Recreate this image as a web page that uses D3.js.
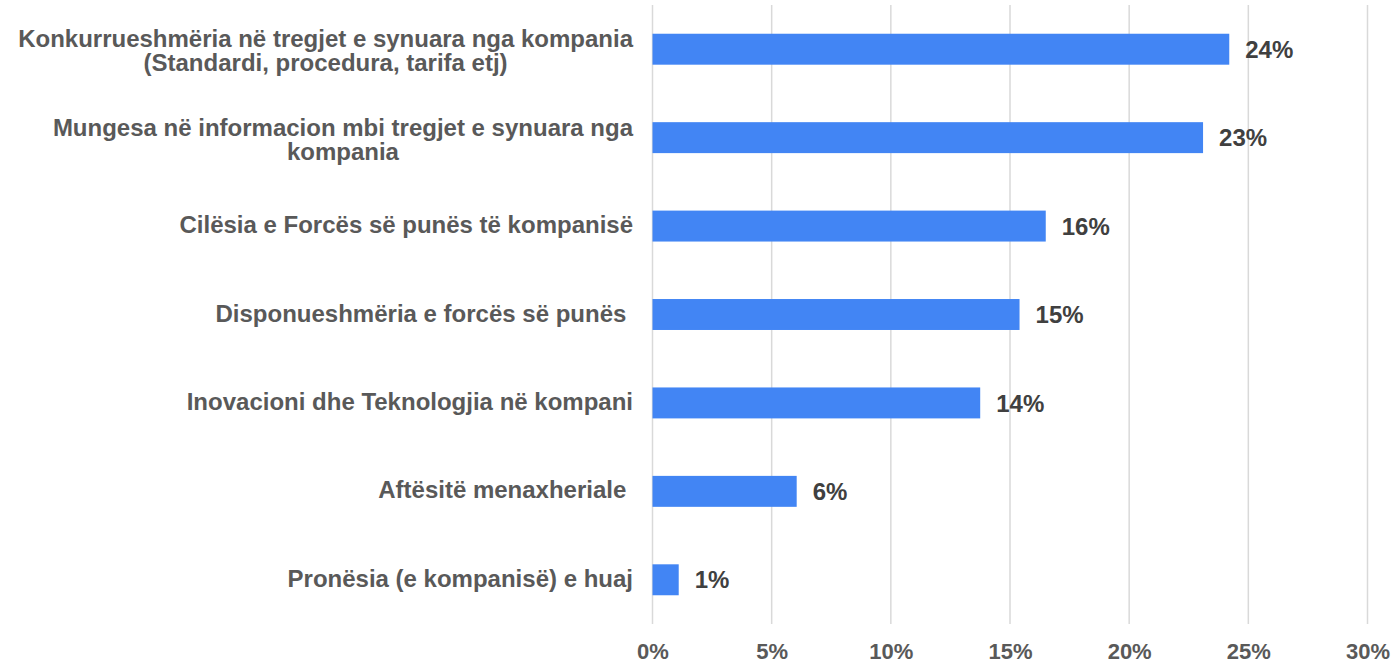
<!DOCTYPE html>
<html>
<head>
<meta charset="utf-8">
<script src="https://cdn.jsdelivr.net/npm/d3@7"></script>
<style>
  body { margin: 0; background: #fff; }
  svg { display: block; }
  text { font-family: "Liberation Sans", Arial, sans-serif; font-weight: bold; }
</style>
</head>
<body>
<div id="chart"></div>
<script>
// categories, top to bottom (line breaks as in the original)
var categories = [
  "Konkurrueshmëria në tregjet e synuara nga kompania\n(Standardi, procedura, tarifa etj)",
  "Mungesa në informacion mbi tregjet e synuara nga\nkompania",
  "Cilësia e Forcës së punës të kompanisë",
  "Disponueshmëria e forcës së punës ",
  "Inovacioni dhe Teknologjia në kompani",
  "Aftësitë menaxheriale ",
  "Pronësia (e kompanisë) e huaj"
];
var values = [24.2, 23.1, 16.5, 15.4, 13.75, 6.05, 1.1];
var valueLabels = ["24%", "23%", "16%", "15%", "14%", "6%", "1%"];
var xTicks = [0, 5, 10, 15, 20, 25, 30];

var width = 1395, height = 664;

var svg = d3.select('#chart').append('svg')
    .attr('width', width)
    .attr('height', height);

var x = d3.scaleLinear()
    .domain([0, 30])
    .range([652.5, 1367.5]);

var y = d3.scaleBand()
    .domain(categories)
    .range([5, 624])
    .paddingInner(0.65)
    .paddingOuter(0.325);

// gridlines
svg.append('g')
    .selectAll('line')
    .data(xTicks)
    .enter().append('line')
    .attr('x1', function (d) { return x(d); })
    .attr('x2', function (d) { return x(d); })
    .attr('y1', 5)
    .attr('y2', 624)
    .attr('stroke', '#d9d9d9')
    .attr('stroke-width', 1.5);

// x axis tick labels
var xAxis = d3.axisBottom(x)
    .tickValues(xTicks)
    .tickSize(0)
    .tickPadding(0)
    .tickFormat(function (d) { return d + '%'; });

var ax = svg.append('g')
    .attr('transform', 'translate(0,659)')
    .call(xAxis);
ax.select('.domain').remove();
ax.selectAll('text')
    .attr('y', 0)
    .attr('dy', 0)
    .style('font-family', '"Liberation Sans", Arial, sans-serif')
    .style('font-weight', 'bold')
    .style('font-size', '22px')
    .attr('fill', '#595959');

// bars
svg.append('g')
    .selectAll('rect')
    .data(values)
    .enter().append('rect')
    .attr('x', x(0))
    .attr('y', function (d, i) { return y(categories[i]); })
    .attr('width', function (d) { return x(d) - x(0); })
    .attr('height', y.bandwidth())
    .attr('fill', '#4285f4');

// value labels
svg.append('g')
    .selectAll('text')
    .data(values)
    .enter().append('text')
    .attr('x', function (d) { return x(d) + 16; })
    .attr('y', function (d, i) { return y(categories[i]) + y.bandwidth() / 2; })
    .attr('dy', '0.36em')
    .attr('fill', '#404040')
    .style('font-size', '24px')
    .text(function (d, i) { return valueLabels[i]; });

// category labels (multi-line centred block, right aligned to the axis)
var labelRight = 633, lineH = 24;
var lab = svg.append('g');
categories.forEach(function (c, i) {
    var lines = c.split('\n');
    var cy = y(c) + y.bandwidth() / 2 + (lines.length > 1 ? 1.5 : -1.5);
    var t = lab.append('text')
        .attr('fill', '#595959')
        .style('font-size', '24px')
        .style('white-space', 'pre')
        .attr('text-anchor', 'middle');
    lines.forEach(function (l, k) {
        t.append('tspan')
            .attr('y', cy + (k - (lines.length - 1) / 2) * lineH)
            .attr('dy', '0.36em')
            .text(l);
    });
    // measure the widest line, then centre all lines in a block ending at labelRight
    var w = d3.max(t.selectAll('tspan').nodes(), function (n) { return n.getComputedTextLength(); });
    t.selectAll('tspan').attr('x', labelRight - w / 2);
});
</script>
</body>
</html>
